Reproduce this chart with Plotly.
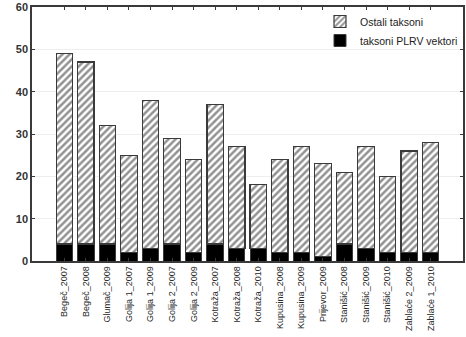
import plotly.graph_objects as go

# Sampling sites / years
sites = ["Begeč_2007", "Begeč_2008", "Glumač_2009", "Golija 1_2007", "Golija 1_2009",
         "Golija 2_2007", "Golija 2_2009", "Kotraža_2007", "Kotraža_2008", "Kotraža_2010",
         "Kupusina_2008", "Kupusina_2009", "Prijevor_2009", "Stanišić_2008", "Stanišić_2009",
         "Stanišić_2010", "Zablaće 2_2009", "Zablaće 1_2010"]
# Total number of taxa per site
total_taxa = [49, 47, 32, 25, 38, 29, 24, 37, 27, 18, 24, 27, 23, 21, 27, 20, 26, 28]
# PLRV vector taxa per site
plrv_taxa = [4, 4, 4, 2, 3, 4, 2, 4, 3, 3, 2, 2, 1, 4, 3, 2, 2, 2]
other_taxa = [t - p for t, p in zip(total_taxa, plrv_taxa)]

y_ticks = [0, 10, 20, 30, 40, 50, 60]

edge = "#3a3a3a"
font = "Liberation Sans, Arial, sans-serif"

fig = go.Figure()
fig.add_trace(go.Bar(
    x=sites, y=plrv_taxa, name="taksoni PLRV vektori",
    marker=dict(color="#000000", line=dict(color=edge, width=1)),
    width=0.76,
))
fig.add_trace(go.Bar(
    x=sites, y=other_taxa, name="Ostali taksoni",
    marker=dict(color="white", line=dict(color=edge, width=1.2),
                pattern=dict(shape="/", fgcolor="#262626", bgcolor="white",
                             size=5, solidity=0.5)),
    width=0.76,
))

fig.update_layout(
    width=466, height=337,
    barmode="stack",
    margin=dict(l=32, r=1, t=7, b=76),
    paper_bgcolor="white", plot_bgcolor="white",
    font=dict(family=font, color="#222222"),
    showlegend=True,
    legend=dict(x=1.0, y=1.0, xanchor="right", yanchor="top",
                traceorder="reversed", bgcolor="rgba(255,255,255,0)",
                font=dict(size=10.5, family=font, color="#222222"),
                itemwidth=30, tracegroupgap=0),
    xaxis=dict(
        range=[-1.5, 18.5], tickangle=-90,
        tickfont=dict(size=9, family=font, color="#2a2a2a"),
        ticks="inside", ticklen=3, tickcolor=edge,
        showline=True, linecolor=edge, linewidth=1.5, mirror="ticks",
        showgrid=False,
    ),
    yaxis=dict(
        range=[0, 60], tickvals=y_ticks,
        tickfont=dict(size=11, family=font, color="#333333", weight="bold"),
        ticks="inside", ticklen=3, tickcolor=edge,
        showline=True, linecolor=edge, linewidth=1.5, mirror="ticks",
        showgrid=True, gridcolor="#eeeeee", gridwidth=1,
        zeroline=False,
    ),
)

fig.write_html("out.html")
